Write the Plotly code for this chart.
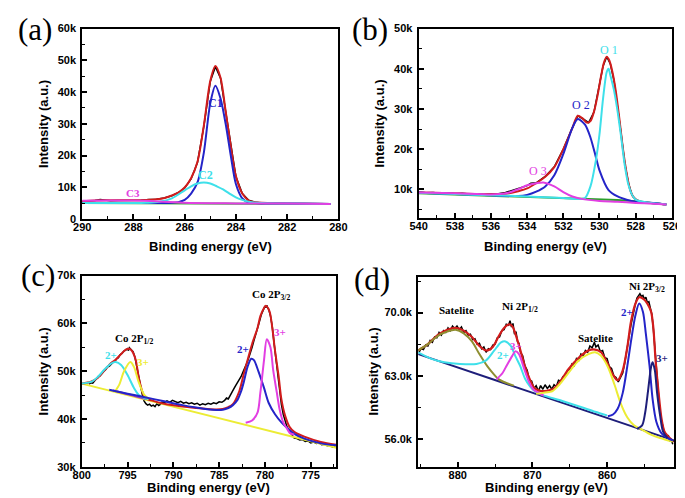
import plotly.graph_objects as go

# ================= Panel (a): C 1s (intensity in thousands) =================
a_raw_x = [290.0, 289.75, 289.5, 289.3, 289.1, 288.9, 288.6, 288.3, 288.0, 287.7, 287.4, 287.1, 286.8, 286.5,
           286.2, 286.0, 285.75, 285.5, 285.25, 285.0, 284.8, 284.6, 284.4, 284.2, 284.0, 283.75, 283.5, 283.25,
           283.0, 282.7, 282.4, 282.1, 281.8, 281.5, 281.2, 280.9, 280.6, 280.3]
a_raw_y = [5.5, 5.6, 5.8, 6.1, 5.9, 5.7, 5.8, 5.8, 5.9, 5.9, 6.1, 6.2, 6.6, 7.3,
           8.5, 9.8, 12.6, 17.8, 29.3, 43.3, 48.0, 44.4, 33.9, 23.0, 13.4, 8.0, 5.9, 5.3,
           5.0, 4.9, 4.85, 4.75, 4.8, 4.7, 4.75, 4.65, 4.7, 4.6]
a_base_x = [290.0, 287.0, 285.0, 283.0, 280.3]
a_base_y = [5.0, 5.0, 4.85, 4.8, 4.7]
a_fit_x = [290.0, 289.5, 289.0, 288.5, 288.0, 287.5, 287.0, 286.75, 286.5, 286.25, 286.0, 285.75, 285.5, 285.25,
           285.0, 284.8, 284.6, 284.4, 284.2, 284.0, 283.75, 283.5, 283.25, 283.0, 282.5, 282.0, 281.0, 280.3]
a_fit_y = [5.6, 5.8, 5.9, 5.9, 5.9, 6.0, 6.3, 6.7, 7.4, 8.3, 9.9, 12.8, 18.0, 29.5,
           43.5, 48.2, 44.5, 34.0, 23.0, 13.5, 8.0, 5.8, 5.3, 5.1, 5.0, 4.9, 4.8, 4.7]
a_c1_x = [290.0, 287.0, 286.5, 286.25, 286.0, 285.75, 285.5, 285.25, 285.0, 284.8, 284.6, 284.4, 284.2, 284.0,
          283.75, 283.5, 283.25, 283.0, 281.0, 280.3]
a_c1_y = [5.0, 5.0, 5.1, 5.3, 6.0, 8.0, 11.5, 21.0, 36.5, 42.0, 38.0, 30.0, 20.0, 11.0,
          6.5, 5.2, 5.0, 4.9, 4.8, 4.7]
a_c2_x = [290.0, 288.0, 287.5, 287.0, 286.5, 286.0, 285.75, 285.5, 285.25, 285.0, 284.75, 284.5, 284.25, 284.0,
          283.75, 283.5, 283.0, 281.0, 280.3]
a_c2_y = [5.0, 5.0, 5.1, 5.4, 6.5, 9.0, 10.3, 11.2, 11.5, 11.2, 10.3, 9.3, 8.0, 6.8,
          6.0, 5.4, 5.0, 4.8, 4.7]
a_c3_x = [290.0, 289.0, 288.0, 287.0, 286.0, 285.0, 284.0, 282.0, 280.3]
a_c3_y = [5.7, 5.8, 5.8, 5.5, 5.1, 4.95, 4.9, 4.85, 4.75]

# ================= Panel (b): O 1s =================
b_raw_x = [540, 539.6, 539.2, 538.8, 538.4, 538, 537.6, 537.2, 536.8, 536.4, 536, 535.6, 535.2, 534.8, 534.4,
           534, 533.8, 533.5, 533, 532.5, 532, 531.5, 531.2, 530.9, 530.6, 530.3, 530, 529.8, 529.6, 529.4,
           529.2, 529, 528.8, 528.6, 528.4, 528.2, 528, 527.6, 527.2, 526.8, 526.4]
b_raw_y = [9.3, 9.1, 9.2, 9.0, 9.1, 8.9, 9.0, 8.8, 8.9, 8.7, 8.8, 8.9, 9.2, 9.7, 10.3,
           10.9, 11.5, 11.6, 13.2, 15.6, 20.0, 25.3, 28.3, 27.5, 26.6, 29.3, 35.8, 40.7, 43.0, 41.2,
           37.1, 31.0, 23.7, 16.4, 11.5, 8.6, 7.4, 6.7, 6.6, 6.3, 6.2]
b_base_x = [540, 535, 531, 529, 528, 526.3]
b_base_y = [9.0, 8.3, 7.6, 7.3, 7.0, 6.2]
b_fit_x = [540, 538, 536, 535, 534.5, 534, 533.5, 533, 532.5, 532, 531.5, 531.2, 530.95, 530.7, 530.5, 530.3,
           530.1, 529.9, 529.75, 529.6, 529.45, 529.3, 529.1, 528.9, 528.7, 528.5, 528.3, 528.1, 527.8, 527.4,
           527, 526.3]
b_fit_y = [9.2, 9.0, 8.75, 9.0, 9.5, 10.2, 11.5, 13.1, 15.5, 20.0, 25.3, 28.3, 27.7, 26.6, 27.0, 29.4,
           33.5, 38.5, 41.6, 43.0, 42.0, 39.5, 34.5, 27.5, 20.0, 14.0, 9.8, 7.9, 7.0, 6.7,
           6.5, 6.2]
b_o2_x = [540, 536, 534.5, 534, 533.5, 533, 532.5, 532, 531.5, 531.2, 530.8, 530.5, 530.2, 530, 529.5, 529,
          528.5, 528, 527, 526.3]
b_o2_y = [9.1, 8.5, 8.3, 8.6, 9.4, 10.7, 13.5, 18.8, 25.3, 27.5, 26.1, 22.9, 18.0, 14.7, 9.8, 8.2,
          7.4, 6.9, 6.6, 6.2]
b_o1_x = [540, 538, 536, 534, 532, 531, 530.8, 530.5, 530.2, 530, 529.8, 529.6, 529.5, 529.4, 529.2, 529,
          528.8, 528.6, 528.4, 528.2, 528, 527.5, 527, 526.3]
b_o1_y = [9.1, 8.8, 8.5, 8.2, 7.8, 7.6, 7.8, 10.7, 17.2, 23.7, 32.7, 39.2, 40.0, 38.4, 34.7, 29.4,
          22.9, 15.9, 11.1, 8.6, 7.4, 6.8, 6.5, 6.2]
b_o3_x = [540, 538, 536, 535.5, 535, 534.5, 534, 533.5, 533.1, 532.5, 532, 531.5, 531, 530, 529, 528, 527, 526.3]
b_o3_y = [9.2, 9.0, 8.7, 8.8, 9.2, 10.0, 11.0, 11.5, 11.7, 10.7, 9.3, 8.2, 7.6, 7.1, 6.9, 6.6, 6.4, 6.2]

# ================= Panel (c): Co 2p =================
c_raw_x = [799.2, 799.0, 798.8, 798.6, 798.4, 798.2, 798.0, 797.8, 797.6, 797.4, 797.2, 797.0, 796.8, 796.6,
           796.4, 796.2, 796.0, 795.8, 795.6, 795.4, 795.2, 795.0, 794.9, 794.8, 794.6, 794.4, 794.2, 794.0,
           793.8, 793.6, 793.4, 793.2, 793.0, 792.8, 792.6, 792.4, 792.2, 792.0, 791.8, 791.6, 791.4, 791.3,
           791.0, 790.7, 790.4, 790.1, 789.8, 789.5, 789.2, 788.9, 788.6, 788.3, 788.0, 787.7, 787.4, 787.1,
           786.8, 786.5, 786.2, 785.9, 785.6, 785.3, 785.0, 784.7, 784.4, 784.2, 784.0, 783.8, 783.6, 783.4,
           783.2, 783.0, 782.8, 782.6, 782.4, 782.2, 782.0, 781.8, 781.6, 781.4, 781.2, 781.0, 780.8, 780.6,
           780.4, 780.2, 780.0, 779.9, 779.8, 779.7, 779.6, 779.4, 779.2, 779.0, 778.8, 778.6, 778.4, 778.2,
           778.0, 777.8, 777.6, 777.4, 777.2, 777.0, 776.8, 776.5, 776.2, 775.9, 775.6, 775.3, 775.0, 774.7,
           774.4, 774.1, 773.8, 773.5, 773.2, 772.9, 772.6, 772.3]
c_raw_y = [47.3, 47.6, 47.5, 48.0, 48.3, 48.9, 49.0, 49.6, 50.0, 50.3, 50.9, 51.0, 51.5, 51.8,
           52.0, 52.6, 52.8, 53.5, 53.7, 54.2, 54.4, 54.7, 54.3, 54.9, 54.5, 54.1, 53.0, 51.0,
           48.8, 46.6, 45.2, 43.8, 43.2, 42.9, 43.1, 42.7, 42.9, 42.6, 43.2, 42.8, 43.1, 43.5,
           43.4, 43.8, 43.5, 43.9, 43.6, 43.4, 43.7, 43.3, 43.5, 43.2, 43.4, 43.1, 43.3, 42.9,
           43.2, 43.0, 43.3, 43.1, 43.4, 43.2, 43.6, 43.5, 43.9, 44.4, 44.2, 45.0, 45.6, 46.3,
           47.0, 47.6, 48.3, 48.9, 49.8, 50.6, 51.6, 52.6, 53.7, 55.0, 56.4, 57.6, 58.9, 60.4,
           61.8, 62.9, 63.6, 63.3, 63.8, 63.2, 63.0, 61.6, 59.3, 55.8, 52.4, 48.7, 45.5, 43.0,
           41.0, 39.5, 38.4, 37.6, 37.0, 36.4, 36.0, 35.9, 35.6, 35.7, 35.3, 35.4, 35.0, 35.2,
           34.9, 35.0, 34.6, 34.7, 34.4, 34.5, 34.1, 34.2]
c_base_x = [800.0, 772.2]
c_base_y = [47.4, 34.0]
c_fit_x = [800, 799, 798.2, 797.5, 796.8, 796.3, 795.7, 795.2, 794.8, 794.5, 794.1, 793.8, 793.4, 793.1, 792.2,
           791, 789, 787.5, 786.3, 785.3, 784.6, 784.0, 783.5, 782.8, 782.3, 781.9, 781.4, 780.8, 780.5,
           780.1, 779.9, 779.5, 779.2, 778.9, 778.5, 778.2, 777.8, 777.3, 776.8, 775.7, 773.9, 772.2]
c_fit_y = [47.4, 47.8, 48.7, 50.2, 51.7, 52.4, 53.6, 54.5, 54.7, 54.2, 52.3, 48.9, 45.8, 44.4, 43.8,
           43.2, 42.6, 42.3, 42.1, 42.0, 42.1, 42.5, 43.1, 45.8, 49.5, 52.3, 55.7, 59.1, 61.5,
           63.2, 63.7, 62.5, 59.1, 54.3, 48.9, 44.1, 40.7, 38.3, 37.3, 36.3, 35.2, 34.6]
c_co2_12_x = [800, 798.9, 798.2, 797.5, 796.8, 796.3, 795.7, 795.0, 794.3, 793.8, 793.2, 792.7]
c_co2_12_y = [47.4, 47.8, 48.9, 50.4, 51.6, 51.9, 51.3, 49.2, 46.5, 45.1, 44.4, 44.1]
c_co3_12_x = [796.4, 795.9, 795.4, 794.7, 794.3, 793.8, 793.2, 792.7]
c_co3_12_y = [45.7, 47.2, 49.9, 51.9, 50.9, 47.8, 45.1, 44.2]
c_tail_x = [796.6, 795.5, 794.5, 793.5, 793.0]
c_tail_y = [45.95, 45.45, 44.95, 44.45, 44.2]
c_co2_32_x = [797.0, 795.0, 793.0, 791.0, 789.0, 787.5, 786.3, 785.3, 784.6, 784.0, 783.5, 783.0, 782.6, 782.3,
              781.9, 781.5, 781.2, 780.7, 780.1, 779.6, 778.9, 778.2, 777.5, 776.8, 775.7, 773.9, 772.2]
c_co2_32_y = [46.1, 45.3, 44.5, 43.7, 42.9, 42.4, 42.05, 41.9, 41.95, 42.3, 42.9, 44.0, 45.8, 47.8,
              50.9, 52.6, 52.3, 49.9, 46.5, 43.4, 41.0, 39.3, 38.0, 36.9, 35.9, 34.9, 34.5]
c_co3_32_x = [782.1, 781.4, 780.8, 780.5, 780.1, 779.8, 779.4, 779.1, 778.7, 778.4, 778.0, 777.6, 777.3, 776.8]
c_co3_32_y = [39.2, 39.7, 41.4, 45.5, 52.3, 56.7, 55.0, 50.2, 45.5, 42.05, 39.3, 38.0, 37.1, 36.7]

# ================= Panel (d): Ni 2p =================
d_raw_x = [885.2, 884.9, 884.6, 884.3, 884.0, 883.7, 883.4, 883.1, 882.8, 882.5, 882.2, 881.9, 881.6, 881.3,
           881.0, 880.7, 880.4, 880.1, 879.8, 879.5, 879.2, 878.9, 878.6, 878.3, 878.0, 877.7, 877.4, 877.1,
           876.8, 876.5, 876.2, 875.9, 875.6, 875.3, 875.0, 874.7, 874.4, 874.1, 873.8, 873.5, 873.2, 873.0,
           872.8, 872.6, 872.4, 872.2, 872.0, 871.8, 871.6, 871.3, 871.0, 870.7, 870.4, 870.1, 869.8, 869.5,
           869.2, 868.9, 868.6, 868.3, 868.0, 867.7, 867.4, 867.1, 866.8, 866.5, 866.2, 865.9, 865.6, 865.3,
           865.0, 864.7, 864.4, 864.1, 863.8, 863.5, 863.2, 862.9, 862.6, 862.3, 862.0, 861.7, 861.5, 861.2,
           860.9, 860.6, 860.3, 860.0, 859.7, 859.4, 859.1, 858.8, 858.5, 858.2, 857.9, 857.6, 857.3, 857.0,
           856.8, 856.5, 856.2, 856.0, 855.8, 855.6, 855.4, 855.2, 855.0, 854.8, 854.6, 854.4, 854.2, 854.0,
           853.8, 853.6, 853.4, 853.2, 853.0, 852.8, 852.6, 852.4, 852.2, 852.0, 851.8, 851.6, 851.4, 851.2]
d_raw_y = [65.6, 66.0, 65.9, 66.4, 66.3, 66.9, 66.7, 67.3, 67.2, 67.8, 67.5, 68.0, 67.8, 68.3,
           68.0, 68.5, 68.2, 68.5, 68.1, 68.4, 67.8, 68.0, 67.5, 67.6, 67.0, 67.1, 66.5, 66.6,
           66.0, 66.2, 65.6, 66.0, 65.9, 66.4, 66.5, 67.2, 67.3, 68.0, 68.1, 68.7, 68.6, 69.1,
           68.4, 68.8, 67.6, 67.9, 66.8, 66.6, 65.6, 65.2, 64.1, 63.6, 62.5, 62.4, 61.6, 61.9,
           61.3, 61.9, 61.5, 62.0, 61.6, 61.9, 61.5, 62.0, 61.8, 62.5, 62.4, 62.9, 63.0, 63.6,
           63.7, 64.3, 64.1, 64.9, 64.7, 65.4, 65.2, 65.8, 65.6, 66.3, 66.1, 66.7, 66.2, 66.4,
           65.7, 65.8, 65.0, 64.9, 64.0, 63.8, 63.0, 62.8, 62.3, 62.9, 63.3, 64.6, 65.9, 67.6,
           68.6, 70.0, 71.0, 71.6, 71.9, 72.1, 71.8, 71.9, 71.5, 71.7, 71.1, 71.2, 70.5, 69.8,
           68.2, 66.0, 63.6, 61.5, 59.8, 58.4, 57.6, 56.9, 56.6, 56.2, 56.4, 55.8, 55.9, 55.4]
d_base_x = [885.3, 851.0]
d_base_y = [65.4, 55.8]
d_fit_x = [885.3, 884.0, 882.7, 881.4, 880.3, 879.2, 878.1, 877.1, 876.2, 875.3, 874.5, 873.8, 873.1, 872.7,
           872.3, 871.6, 871.0, 870.3, 869.7, 868.8, 867.3, 866.4, 865.1, 863.8, 862.5, 861.6, 860.8, 859.9,
           859.2, 858.6, 857.9, 857.3, 856.8, 856.2, 855.7, 855.1, 854.6, 854.1, 853.8, 853.5, 853.1, 852.7,
           852.3, 851.6, 851.0]
d_fit_y = [65.8, 66.5, 67.5, 68.1, 68.3, 68.0, 67.3, 66.3, 65.8, 66.2, 67.4, 68.3, 68.7, 68.5,
           67.7, 65.8, 64.0, 62.5, 61.6, 61.3, 61.5, 62.2, 63.8, 65.0, 65.8, 65.9, 65.6, 64.3,
           63.1, 62.5, 63.6, 66.1, 69.0, 71.0, 71.7, 71.5, 71.0, 70.1, 68.3, 64.7, 61.1, 58.2,
           56.8, 56.1, 55.7]
d_sat1_x = [885.3, 884.0, 882.7, 881.4, 880.3, 879.2, 878.1, 877.1, 876.0, 875.1, 874.5, 873.5, 872.5]
d_sat1_y = [65.8, 66.5, 67.4, 67.9, 68.1, 67.7, 66.8, 65.4, 64.0, 63.1, 62.6, 62.2, 61.9]
d_ni2_12_x = [885.3, 883.6, 881.8, 879.7, 877.5, 876.2, 875.1, 874.2, 873.6, 872.9, 872.3, 871.6, 871.0, 870.3,
              869.7, 868.8, 866.0, 863.4, 861.6, 860.0]
d_ni2_12_y = [65.6, 64.9, 64.5, 64.3, 64.3, 64.7, 65.8, 66.7, 66.8, 66.3, 65.2, 64.0, 62.7, 61.8,
              61.3, 60.9, 60.2, 59.5, 59.0, 58.6]
d_ni3_12_x = [874.8, 874.0, 873.4, 872.7, 872.3, 871.8, 871.2, 870.5, 869.9, 869.2, 868.5]
d_ni3_12_y = [62.6, 63.3, 64.2, 65.2, 65.7, 65.4, 64.0, 62.4, 61.5, 61.1, 60.8]
d_sat2_x = [869.5, 868.6, 867.3, 866.4, 865.1, 863.8, 862.5, 861.6, 860.8, 859.9, 859.0, 858.2, 857.3, 856.4,
            855.5, 854.2, 852.9, 851.2]
d_sat2_y = [61.0, 61.1, 61.3, 62.0, 63.4, 64.7, 65.4, 65.6, 65.2, 64.0, 62.0, 60.0, 58.4, 57.5,
            57.1, 56.5, 56.1, 55.7]
d_ni2_32_x = [859.9, 859.2, 858.6, 857.9, 857.3, 856.8, 856.2, 855.7, 855.2, 854.8, 854.3, 853.9, 853.4, 852.7,
              851.9, 851.2]
d_ni2_32_y = [58.5, 58.7, 59.3, 61.1, 64.0, 66.8, 69.7, 71.0, 70.1, 67.6, 64.0, 60.4, 57.9, 56.6,
              56.1, 55.8]
d_ni3_32_x = [856.0, 855.3, 854.9, 854.5, 854.1, 853.9, 853.6, 853.3, 852.9, 852.5, 851.9]
d_ni3_32_y = [57.1, 57.5, 58.9, 61.4, 64.0, 64.5, 63.6, 61.1, 58.6, 56.8, 56.1]

# ================= Styling =================
RED = "#d21c1c"
BLUE = "#2424c8"
CYAN = "#3ee0ea"
MAGENTA = "#e23ee2"
YELLOW = "#ecec34"
OLIVE = "#8e8e30"
NAVY = "#1e1e7a"
GREEN = "#2ca02c"
PURPLE = "#9a30c8"
SANS = "Liberation Sans, Arial, sans-serif"
SERIF = "Liberation Serif, Times New Roman, serif"
TICKFONT = dict(family=SANS, size=11, color="black", weight="bold")

W, H = 685, 498

fig = go.Figure()


def add(x, y, color, ax, width=2.0, smooth=True):
    xa, ya = ax
    fig.add_trace(go.Scatter(
        x=x, y=y, mode="lines", xaxis=xa, yaxis=ya, showlegend=False, hoverinfo="skip",
        line=dict(color=color, width=width, shape="spline" if smooth else "linear",
                  smoothing=0.8 if smooth else None)))


A, B, C, D = ("x", "y"), ("x2", "y2"), ("x3", "y3"), ("x4", "y4")

# panel a
add(a_raw_x, a_raw_y, "black", A, 1.5, False)
add(a_base_x, a_base_y, GREEN, A, 2.0, False)
add(a_fit_x, a_fit_y, RED, A)
add(a_c1_x, a_c1_y, BLUE, A)
add(a_c2_x, a_c2_y, CYAN, A)
add(a_c3_x, a_c3_y, MAGENTA, A)
# panel b
add(b_raw_x, b_raw_y, "black", B, 1.5, False)
add(b_base_x, b_base_y, GREEN, B, 2.0, False)
add(b_fit_x, b_fit_y, RED, B)
add(b_o2_x, b_o2_y, BLUE, B)
add(b_o1_x, b_o1_y, CYAN, B)
add(b_o3_x, b_o3_y, MAGENTA, B)
# panel c
add(c_raw_x, c_raw_y, "black", C, 1.5, False)
add(c_base_x, c_base_y, YELLOW, C, 2.0, False)
add(c_fit_x, c_fit_y, RED, C)
add(c_tail_x, c_tail_y, PURPLE, C)
add(c_co2_12_x, c_co2_12_y, CYAN, C)
add(c_co3_12_x, c_co3_12_y, YELLOW, C)
add(c_co2_32_x, c_co2_32_y, BLUE, C)
add(c_co3_32_x, c_co3_32_y, MAGENTA, C)
# panel d
add(d_raw_x, d_raw_y, "black", D, 1.5, False)
add(d_fit_x, d_fit_y, RED, D, 2.2)
add(d_base_x, d_base_y, NAVY, D, 2.0, False)
add(d_sat1_x, d_sat1_y, OLIVE, D)
add(d_ni2_12_x, d_ni2_12_y, CYAN, D)
add(d_ni3_12_x, d_ni3_12_y, MAGENTA, D)
add(d_sat2_x, d_sat2_y, YELLOW, D)
add(d_ni2_32_x, d_ni2_32_y, BLUE, D)
add(d_ni3_32_x, d_ni3_32_y, NAVY, D)


def px_dom(a, b, total):
    return [a / total, b / total]


def ydom(top, bottom):
    return [1 - bottom / H, 1 - top / H]


def axis(domain, anchor, rng, tickvals, ticktext, minor_tick0, minor_dtick, standoff=0):
    return dict(domain=domain, anchor=anchor, range=rng, tickmode="array", tickvals=tickvals,
                ticktext=ticktext, ticks="inside", ticklen=5, tickwidth=1.5, tickcolor="black",
                minor=dict(ticks="inside", ticklen=3, tickwidth=1.2, tickcolor="black",
                           tickmode="linear", tick0=minor_tick0, dtick=minor_dtick),
                showline=True, mirror=True, linecolor="black", linewidth=2,
                showgrid=False, zeroline=False, tickfont=TICKFONT, fixedrange=True,
                ticklabelstandoff=standoff)


a_xt = [290, 288, 286, 284, 282, 280]
a_yt = [0, 10, 20, 30, 40, 50, 60]
a_ytl = ["0", "10k", "20k", "30k", "40k", "50k", "60k"]
b_xt = [540, 538, 536, 534, 532, 530, 528, 526]
b_yt = [10, 20, 30, 40, 50]
b_ytl = ["10k", "20k", "30k", "40k", "50k"]
c_xt = [800, 795, 790, 785, 780, 775]
c_yt = [30, 40, 50, 60, 70]
c_ytl = ["30k", "40k", "50k", "60k", "70k"]
d_xt = [880, 870, 860]
d_yt = [56, 63, 70]
d_ytl = ["56.0k", "63.0k", "70.0k"]

XS = -3
YS = 2
fig.update_layout(
    width=W, height=H, margin=dict(l=0, r=0, t=0, b=0),
    paper_bgcolor="white", plot_bgcolor="white",
    xaxis=axis(px_dom(67, 330, W), "y", [290, 280], a_xt, [str(v) for v in a_xt], 280, 1, XS),
    yaxis=axis(ydom(15, 210), "x", [0, 60], a_yt, a_ytl, 0, 5, YS),
    xaxis2=axis(px_dom(412.5, 672.5, W), "y2", [540, 526], b_xt, [str(v) for v in b_xt], 526, 1, XS),
    yaxis2=axis(ydom(15, 209), "x2", [2.85, 50], b_yt, b_ytl, 0, 5, YS),
    xaxis3=axis(px_dom(66.5, 328, W), "y3", [800, 772.2], c_xt, [str(v) for v in c_xt], 775, 2.5, XS),
    yaxis3=axis(ydom(268, 464), "x3", [30, 70], c_yt, c_ytl, 0, 5, YS),
    xaxis4=axis(px_dom(412, 675, W), "y4", [885.3, 851.0], d_xt, [str(v) for v in d_xt], 855, 5, XS),
    yaxis4=axis(ydom(269, 464), "x4", [52.9, 74.0], d_yt, d_ytl, 56, 3.5, YS),
)

ann = []


def paper_text(text, px, py, size, family=SANS, weight="bold", angle=0):
    ann.append(dict(text=text, x=px / W, y=1 - py / H, xref="paper", yref="paper", showarrow=False,
                    xanchor="center", yanchor="middle", textangle=angle,
                    font=dict(family=family, size=size, color="black", weight=weight)))


def data_text(text, x, y, ax, color, size=12, weight="bold"):
    ann.append(dict(text=text, x=x, y=y, xref=ax[0], yref=ax[1], showarrow=False,
                    xanchor="center", yanchor="middle",
                    font=dict(family=SERIF, size=size, color=color, weight=weight)))


# axis titles
for cx, cy_x, cx_y, cy in [(198.5, 238, 27, 112.5), (543, 238, 372, 112),
                           (197, 485, 27, 366), (543.5, 485, 366, 366)]:
    paper_text("Binding energy (eV)", cx, cy_x, 13)
    paper_text("Intensity (a.u.)", cx_y, cy, 13, angle=-90)

# panel letters
paper_text("(a)", 18, 16, 31, SERIF, "normal")
paper_text("(b)", 363, 16, 31, SERIF, "normal")
paper_text("(c)", 22, 268, 31, SERIF, "normal")
paper_text("(d)", 365, 272, 31, SERIF, "normal")

# peak labels
data_text("C1", 284.8, 36.4, A, BLUE)
data_text("C2", 285.2, 13.8, A, CYAN)
data_text("C3", 288.0, 8.2, A, MAGENTA, 11)
data_text("O 1", 529.5, 44.7, B, CYAN, 12, "normal")
data_text("O 2", 531.0, 30.9, B, BLUE, 12, "normal")
data_text("O 3", 533.4, 14.5, B, MAGENTA, 12, "normal")
data_text("Co 2P<sub>1/2</sub>", 794.3, 56.8, C, "black", 11)
data_text("2+", 796.8, 53.4, C, CYAN, 11)
data_text("3+", 793.35, 51.9, C, YELLOW, 11)
data_text("Co 2P<sub>3/2</sub>", 779.3, 65.9, C, "black", 11)
data_text("3+", 778.35, 58.2, C, MAGENTA, 11)
data_text("2+", 782.4, 54.7, C, BLUE, 11)
data_text("Satelite", 880.1, 70.3, D, "black", 11)
data_text("Ni 2P<sub>1/2</sub>", 871.6, 70.6, D, "black", 11)
data_text("Satelite", 861.6, 67.2, D, "black", 11)
data_text("Ni 2P<sub>3/2</sub>", 854.7, 72.8, D, "black", 11)
data_text("2+", 857.3, 70.1, D, BLUE, 11)
data_text("3+", 852.6, 65.0, D, NAVY, 11)
data_text("2+", 874.0, 65.3, D, CYAN, 11)
data_text("3+", 872.2, 66.3, D, MAGENTA, 11)

fig.update_layout(annotations=ann)
fig.write_html("out.html")
